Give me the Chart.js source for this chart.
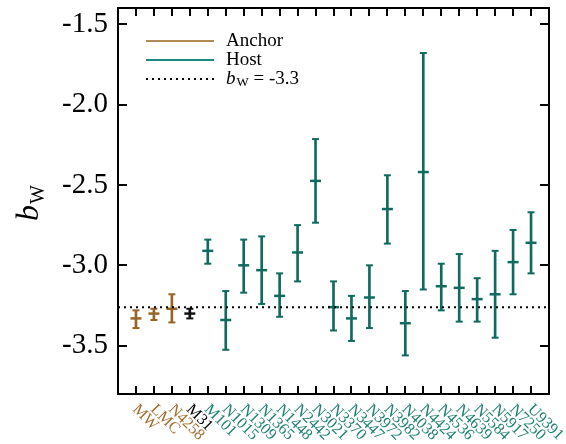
<!DOCTYPE html>
<html>
<head>
<meta charset="utf-8">
<script src="https://cdn.jsdelivr.net/npm/chart.js@4"></script>
<style>
  body { margin: 0; background: #fff; }
  #wrap { width: 566px; height: 444px; }
</style>
</head>
<body>
<div id="wrap"><canvas id="chart" width="566" height="444"></canvas></div>
<script>
// galaxies, left to right
const names = ['MW', 'LMC', 'N4258', 'M31', 'M101', 'N1015', 'N1309', 'N1365', 'N1448', 'N2442',
  'N3021', 'N3370', 'N3447', 'N3972', 'N3982', 'N4038', 'N4424', 'N4536', 'N4639', 'N5584',
  'N5917', 'N7250', 'U9391'];
// anchor / m31 / host
const groups = ['anchor', 'anchor', 'anchor', 'm31', 'host', 'host', 'host', 'host', 'host', 'host',
  'host', 'host', 'host', 'host', 'host', 'host', 'host', 'host', 'host', 'host',
  'host', 'host', 'host'];
const bW = [-3.33, -3.30, -3.27, -3.30, -2.91, -3.34, -3.00, -3.03, -3.19, -2.92,
  -2.475, -3.26, -3.33, -3.20, -2.65, -3.36, -2.42, -3.13, -3.14, -3.21,
  -3.18, -2.98, -2.86];
const bWhigh = [-3.28, -3.27, -3.18, -3.27, -2.84, -3.16, -2.84, -2.82, -3.05, -2.75,
  -2.215, -3.10, -3.19, -3.00, -2.44, -3.16, -1.68, -2.99, -2.93, -3.08,
  -2.91, -2.78, -2.67];
const bWlow = [-3.39, -3.34, -3.355, -3.33, -2.99, -3.525, -3.17, -3.24, -3.32, -3.10,
  -2.735, -3.405, -3.47, -3.39, -2.865, -3.56, -3.15, -3.28, -3.35, -3.35,
  -3.45, -3.18, -3.05];
const refValue = -3.26;
const yTicks = [-3.5, -3.0, -2.5, -2.0, -1.5];

const barColors = { anchor: '#9a6426', m31: '#111111', host: '#0f6b5f' };
const labelColors = { anchor: '#a06e30', m31: '#000000', host: '#1f8173' };
const serif = '"Liberation Serif", "DejaVu Serif", serif';

function pts(values) {
  return values.map(function (v, i) { return { x: i + 1, y: v }; });
}
const colorList = groups.map(function (g) { return barColors[g]; });

const framePlugin = {
  id: 'frame',
  afterDraw: function (chart) {
    const ctx = chart.ctx;
    const a = chart.chartArea;
    const xs = chart.scales.x;
    const ys = chart.scales.y;
    ctx.save();
    ctx.strokeStyle = '#000';
    ctx.lineWidth = 2;
    ctx.strokeRect(a.left, a.top, a.right - a.left, a.bottom - a.top);
    ctx.beginPath();
    for (let i = 0; i < names.length; i++) {
      const x = Math.round(xs.getPixelForValue(i + 1));
      ctx.moveTo(x, a.bottom); ctx.lineTo(x, a.bottom - 8);
      ctx.moveTo(x, a.top); ctx.lineTo(x, a.top + 8);
    }
    yTicks.forEach(function (v) {
      const y = Math.round(ys.getPixelForValue(v));
      ctx.moveTo(a.left, y); ctx.lineTo(a.left + 9, y);
      ctx.moveTo(a.right, y); ctx.lineTo(a.right - 9, y);
    });
    ctx.stroke();

    // category labels, slanted down to the right
    ctx.font = '16px ' + serif;
    ctx.textAlign = 'left';
    ctx.textBaseline = 'middle';
    for (let i = 0; i < names.length; i++) {
      const x = xs.getPixelForValue(i + 1);
      ctx.save();
      ctx.translate(x - 1, a.bottom + 13);
      ctx.rotate(Math.PI / 4);
      ctx.fillStyle = labelColors[groups[i]];
      ctx.fillText(names[i], 0, 0);
      ctx.restore();
    }

    // y title b_W
    ctx.save();
    ctx.translate(38, (a.top + a.bottom) / 2 + 2);
    ctx.rotate(-Math.PI / 2);
    ctx.fillStyle = '#000';
    ctx.textAlign = 'left';
    ctx.textBaseline = 'alphabetic';
    ctx.font = 'italic 32px ' + serif;
    const bw = ctx.measureText('b').width;
    ctx.fillText('b', -18, 0);
    ctx.font = '20px ' + serif;
    ctx.fillText('W', -18 + bw + 1, 6);
    ctx.restore();

    // legend
    const lx = a.left + 28, tx = a.left + 108;
    const rows = [a.top + 33, a.top + 52, a.top + 71];
    ctx.lineWidth = 2;
    ctx.strokeStyle = '#b38a55';
    ctx.beginPath(); ctx.moveTo(lx, rows[0]); ctx.lineTo(lx + 68, rows[0]); ctx.stroke();
    ctx.strokeStyle = '#1b8a80';
    ctx.beginPath(); ctx.moveTo(lx, rows[1]); ctx.lineTo(lx + 68, rows[1]); ctx.stroke();
    ctx.strokeStyle = '#000';
    ctx.setLineDash([2, 4]);
    ctx.beginPath(); ctx.moveTo(lx, rows[2]); ctx.lineTo(lx + 68, rows[2]); ctx.stroke();
    ctx.setLineDash([]);
    ctx.fillStyle = '#000';
    ctx.textAlign = 'left';
    ctx.textBaseline = 'middle';
    ctx.font = '19px ' + serif;
    ctx.fillText('Anchor', tx, rows[0]);
    ctx.fillText('Host', tx, rows[1]);
    ctx.font = 'italic 19px ' + serif;
    ctx.fillText('b', tx, rows[2]);
    const b2 = ctx.measureText('b').width;
    ctx.font = '13px ' + serif;
    ctx.fillText('W', tx + b2 + 1, rows[2] + 4);
    const w2 = ctx.measureText('W').width;
    ctx.font = '19px ' + serif;
    ctx.fillText(' = -3.3', tx + b2 + 1 + w2, rows[2]);
    ctx.restore();
  }
};

const ctx = document.getElementById('chart').getContext('2d');
const myChart = new Chart(ctx, {
  type: 'bar',
  data: {
    datasets: [{
      type: 'line',
      data: [{ x: 0, y: refValue }, { x: 24, y: refValue }],
      borderColor: '#000',
      borderWidth: 2,
      borderDash: [2, 4],
      pointRadius: 0
    }, {
      data: names.map(function (n, i) { return { x: i + 1, y: [bWlow[i], bWhigh[i]] }; }),
      backgroundColor: colorList,
      barThickness: 2
    }, {
      type: 'line',
      data: pts(bWhigh).concat(pts(bWlow)),
      showLine: false,
      pointStyle: 'line',
      pointRadius: 3.5,
      pointBorderWidth: 2,
      pointBorderColor: colorList.concat(colorList)
    }, {
      type: 'line',
      data: pts(bW),
      showLine: false,
      pointStyle: 'line',
      pointRadius: 5.5,
      pointBorderWidth: 2.5,
      pointBorderColor: colorList
    }]
  },
  options: {
    responsive: false,
    animation: false,
    layout: { padding: { top: 6, right: 17, left: 0, bottom: 0 } },
    plugins: { legend: { display: false }, tooltip: { enabled: false } },
    scales: {
      x: {
        type: 'linear',
        min: 0,
        max: 24,
        offset: false,
        grid: { display: false, offset: false },
        border: { display: false },
        ticks: { display: false },
        afterFit: function (s) { s.height = 50; s.paddingLeft = 0; s.paddingRight = 0; }
      },
      y: {
        min: -3.8,
        max: -1.4,
        grid: { display: false, drawTicks: false },
        border: { display: false },
        afterBuildTicks: function (s) { s.ticks = yTicks.map(function (v) { return { value: v }; }); },
        afterFit: function (s) { s.width = 118; s.paddingTop = 0; s.paddingBottom = 0; },
        ticks: {
          padding: 10,
          color: '#000',
          font: { family: serif, size: 29 },
          callback: function (v) { return v.toFixed(1); }
        }
      }
    }
  },
  plugins: [framePlugin]
});
</script>
</body>
</html>
